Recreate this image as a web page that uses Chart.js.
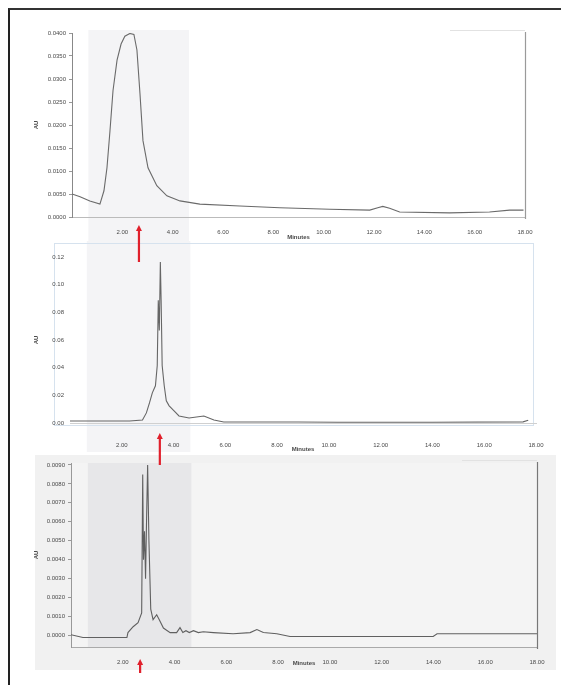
<!DOCTYPE html>
<html lang="en">
<head>
<meta charset="UTF-8" />
<title>Chromatograms</title>
<script src="https://cdn.jsdelivr.net/npm/chart.js"></script>
<style>
  html, body { margin: 0; padding: 0; background: #fff; }
  #page { position: relative; width: 561px; height: 685px; overflow: hidden; filter: blur(0.5px); }
  #frame { position: absolute; left: 8px; top: 8px; width: 570px; height: 700px;
           border-left: 2px solid #222; border-top: 2px solid #333; }
  .panel { position: absolute; left: 0; }
</style>
</head>
<body>
<div id="page">
  <div id="frame"></div>
  <div class="panel" style="top:0;z-index:3"><canvas id="c1" width="561" height="268"></canvas></div>
  <div class="panel" style="top:240px;z-index:2"><canvas id="c2" width="561" height="232"></canvas></div>
  <div class="panel" style="top:452px;z-index:1"><canvas id="c3" width="561" height="233"></canvas></div>
</div>
<script>
// shared x axis (minutes)
const xTicks = [2, 4, 6, 8, 10, 12, 14, 16, 18];
const shadedBand = [0.65, 4.65];
const arrowAt = [2.66, 3.47, 2.67];

// top trace
const topMin = [0, 0.32, 0.71, 1.11, 1.27, 1.39, 1.51, 1.63, 1.79, 1.95, 2.10, 2.30, 2.46, 2.58, 2.70,
  2.82, 3.02, 3.37, 3.77, 4.29, 5.08, 6.67, 8.26, 10.24, 11.83, 12.15, 12.35, 12.62, 13.02, 15.0,
  16.59, 17.39, 17.94];
const topAU = [0.0050, 0.0044, 0.0035, 0.0028, 0.0057, 0.0107, 0.0188, 0.0275, 0.0341, 0.0376, 0.0393,
  0.0399, 0.0397, 0.0363, 0.0269, 0.0166, 0.0107, 0.0068, 0.0046, 0.0035, 0.0028, 0.0024, 0.0020,
  0.0017, 0.0015, 0.0020, 0.0023, 0.0019, 0.0011, 0.0009, 0.0011, 0.0015, 0.0015];
const topYTicks = [0, 0.005, 0.01, 0.015, 0.02, 0.025, 0.03, 0.035, 0.04];

// middle trace
const midMin = [0, 1.15, 2.30, 2.80, 2.95, 3.07, 3.18, 3.30, 3.37, 3.41, 3.45, 3.49, 3.52, 3.56, 3.60,
  3.64, 3.72, 3.83, 4.02, 4.21, 4.60, 5.17, 5.56, 5.94, 8.81, 10.34, 14.0, 17.5, 17.7];
const midAU = [0.0015, 0.0015, 0.0015, 0.0022, 0.0073, 0.0145, 0.0218, 0.0269, 0.0415, 0.0887, 0.0669,
  0.1164, 0.0887, 0.0415, 0.0342, 0.0269, 0.0160, 0.0124, 0.0087, 0.0051, 0.0036, 0.0051, 0.0022,
  0.0007, 0.0007, 0.0005, 0.0005, 0.0008, 0.0020];
const midYTicks = [0, 0.02, 0.04, 0.06, 0.08, 0.10, 0.12];

// bottom trace
const botMin = [0, 0.46, 2.16, 2.20, 2.40, 2.59, 2.73, 2.77, 2.80, 2.84, 2.88, 2.92, 2.96, 3.01, 3.08,
  3.17, 3.31, 3.41, 3.57, 3.83, 4.08, 4.21, 4.32, 4.44, 4.57, 4.73, 4.92, 5.11, 5.50, 6.26, 6.92,
  7.18, 7.43, 7.95, 8.46, 13.99, 14.14, 18.0];
const botAU = [0.00005, -0.0001, -0.0001, 0.00016, 0.00047, 0.00068, 0.0012, 0.0085, 0.0040, 0.0055,
  0.0030, 0.0062, 0.0090, 0.0050, 0.0014, 0.00084, 0.0011, 0.00084, 0.0004, 0.00016, 0.00016,
  0.00042, 0.00016, 0.00026, 0.00016, 0.00026, 0.00016, 0.0002, 0.00016, 0.0001, 0.00016, 0.00032,
  0.00016, 0.0001, -0.00005, -0.00005, 0.0001, 0.0001];
const botYTicks = [0, 0.001, 0.002, 0.003, 0.004, 0.005, 0.006, 0.007, 0.008, 0.009];

const font = { family: "Liberation Sans, Arial, sans-serif", size: 6 };
const textColor = "#4a4a4a";

const decor = {
  id: "decor",
  beforeDraw(chart, args, o) {
    const { ctx, chartArea: a, scales: { x } } = chart;
    const bx0 = x.getPixelForValue(shadedBand[0]);
    const bx1 = x.getPixelForValue(shadedBand[1]);
    ctx.save();
    if (o.panel) {
      ctx.fillStyle = o.panel;
      ctx.fillRect(35, o.panelTop, 521, o.panelH);
      ctx.fillStyle = o.plotBg;
      ctx.fillRect(a.left, a.top, a.right - a.left, a.bottom - a.top);
    }
    ctx.fillStyle = o.band;
    ctx.fillRect(bx0, o.bandTop, bx1 - bx0, o.bandBottom - o.bandTop);
    if (o.frame) {
      ctx.strokeStyle = o.frame;
      ctx.lineWidth = 1;
      ctx.strokeRect(a.left - 15.5, 3.5, a.right - a.left + 13, a.bottom - 1);
    }
    ctx.restore();
  },
  afterDraw(chart, args, o) {
    const { ctx, chartArea: a, scales: { x } } = chart;
    ctx.save();
    if (o.rightLine) {
      ctx.strokeStyle = o.rightLine;
      ctx.lineWidth = 1.2;
      ctx.beginPath();
      ctx.moveTo(a.right + 0.5, a.top - 1);
      ctx.lineTo(a.right + 0.5, a.bottom + 2);
      ctx.stroke();
      ctx.strokeStyle = "#e2e2e2";
      ctx.beginPath();
      ctx.moveTo(a.right - 75, a.top - 2.5);
      ctx.lineTo(a.right, a.top - 2.5);
      ctx.stroke();
    }
    // red arrow pointing at the peak
    const ax = x.getPixelForValue(o.arrow);
    const tip = a.bottom + o.arrowTip, tail = a.bottom + o.arrowTail;
    ctx.strokeStyle = "#e0202c";
    ctx.fillStyle = "#e0202c";
    ctx.lineWidth = 2.2;
    ctx.beginPath();
    ctx.moveTo(ax, tip + 4);
    ctx.lineTo(ax, tail);
    ctx.stroke();
    ctx.beginPath();
    ctx.moveTo(ax, tip);
    ctx.lineTo(ax - 3, tip + 6);
    ctx.lineTo(ax + 3, tip + 6);
    ctx.closePath();
    ctx.fill();
    ctx.restore();
  }
};

function makeChart(id, mins, vals, yTicks, cfg) {
  return new Chart(document.getElementById(id), {
    type: "line",
    data: {
      datasets: [{
        data: mins.map((m, i) => ({ x: m, y: vals[i] })),
        borderColor: cfg.lineColor,
        borderWidth: 1.1,
        pointRadius: 0,
        tension: 0
      }]
    },
    options: {
      responsive: false,
      animation: false,
      layout: { padding: cfg.padding },
      plugins: { legend: { display: false }, tooltip: { enabled: false }, decor: cfg.decor },
      scales: {
        x: {
          type: "linear",
          min: 0,
          max: 18,
          afterBuildTicks: (s) => { s.ticks = xTicks.map((v) => ({ value: v })); },
          afterFit: (s) => { s.height = cfg.xHeight; },
          grid: { display: false },
          border: { display: true, color: cfg.xAxisColor, dash: [1, 2], width: 1 },
          ticks: { font, color: textColor, padding: cfg.xTickPad, maxRotation: 0, autoSkip: false,
            callback: (v) => v.toFixed(2) },
          title: { display: true, text: "Minutes", font: { ...font, weight: "bold" }, color: textColor,
            padding: { top: 0, bottom: 2 } }
        },
        y: {
          min: cfg.yMin,
          max: cfg.yMax,
          afterBuildTicks: (s) => { s.ticks = yTicks.map((v) => ({ value: v })); },
          afterFit: (s) => { s.width = cfg.yWidth; },
          grid: { display: cfg.yTickMarks, drawOnChartArea: false, tickLength: 3, color: "#999" },
          border: { display: cfg.yAxisColor !== null, color: cfg.yAxisColor || "#fff", width: 1 },
          ticks: { font, color: textColor, padding: 3, callback: (v) => v.toFixed(cfg.yDec) },
          title: { display: true, text: "AU", font: { ...font, weight: "bold" }, color: textColor,
            padding: { top: 33, bottom: 0 } }
        }
      }
    },
    plugins: [decor]
  });
}

makeChart("c1", topMin, topAU, topYTicks, {
  lineColor: "#6a6a6a",
  padding: { left: 0, right: 36, top: 33, bottom: 25 },
  xHeight: 26, xTickPad: 4, xAxisColor: "#bbb",
  yMin: 0, yMax: 0.04, yWidth: 72, yDec: 4, yTickMarks: true, yAxisColor: "#888",
  decor: { band: "#f4f4f6", bandTop: 30, bandBottom: 241, rightLine: "#9a9a9a",
    arrow: arrowAt[0], arrowTip: 8, arrowTail: 45 }
});

makeChart("c2", midMin, midAU, midYTicks, {
  lineColor: "#666",
  padding: { left: 0, right: 25, top: 17, bottom: 17 },
  xHeight: 32, xTickPad: 11, xAxisColor: "#d0d0d0",
  yMin: 0, yMax: 0.12, yWidth: 70, yDec: 2, yTickMarks: false, yAxisColor: null,
  decor: { band: "#f4f4f6", bandTop: 1, bandBottom: 212, frame: "#d6e2ee",
    arrow: arrowAt[1], arrowTip: 10, arrowTail: 42 }
});

makeChart("c3", botMin, botAU, botYTicks, {
  lineColor: "#606060",
  padding: { left: 0, right: 24, top: 11, bottom: 16 },
  xHeight: 22, xTickPad: 4, xAxisColor: "#aaa",
  yMin: -0.0006, yMax: 0.0091, yWidth: 71, yDec: 4, yTickMarks: true, yAxisColor: "#999",
  decor: { panel: "#f1f1f1", panelTop: 3, panelH: 215, plotBg: "#f4f4f4", band: "#e7e7e9",
    bandTop: 11, bandBottom: 195, rightLine: "#777",
    arrow: arrowAt[2], arrowTip: 12, arrowTail: 26 }
});
</script>
</body>
</html>
